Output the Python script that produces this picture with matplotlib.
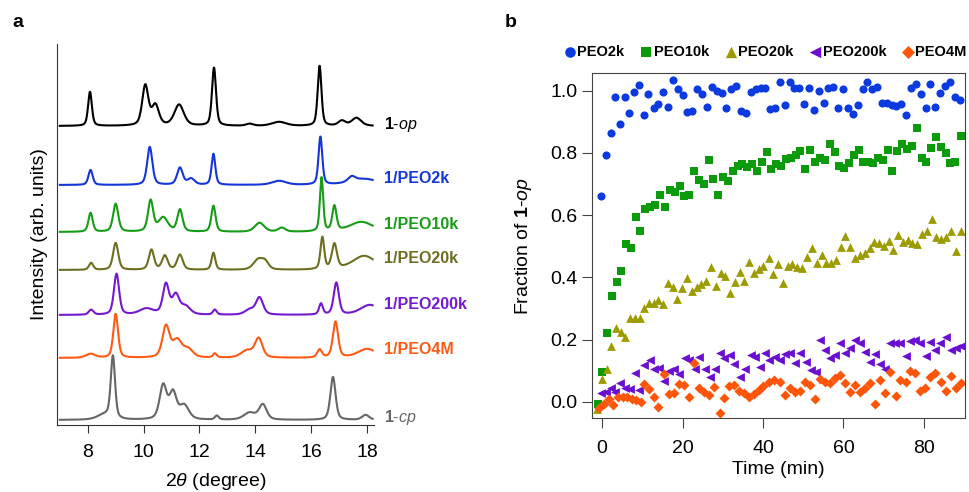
import matplotlib
matplotlib.use('Agg')
import matplotlib.pyplot as plt
import numpy as np

plt.rcParams['font.family'] = ['Liberation Sans', 'DejaVu Sans']
plt.rcParams['mathtext.fontset'] = 'custom'
plt.rcParams['mathtext.rm'] = 'Liberation Sans'
plt.rcParams['mathtext.it'] = 'Liberation Sans:italic'
plt.rcParams['mathtext.bf'] = 'Liberation Sans:bold'

# ---------------- panel a: XRD patterns (peak lists) ----------------
# each pattern = list of (2theta position, height, half width), heights in arb. units
patternNames = ['1-op', '1/PEO2k', '1/PEO10k', '1/PEO20k', '1/PEO200k', '1/PEO4M', '1-cp']
patternColors = ['#000000', '#1436d8', '#169c16', '#6e6e22', '#7419d0', '#ff5a14', '#666666']
patternOffsets = [299, 240, 193, 155, 110, 67, 5]
patternPeaks = [
    [(8.08, 34, 0.08), (10.06, 40, 0.13), (10.42, 20, 0.15), (11.27, 21, 0.2), (12.52, 58, 0.085),
     (13.8, 2, 0.15), (14.85, 4, 0.3), (16.3, 60, 0.08), (17.1, 5, 0.15), (17.62, 8, 0.2)],
    [(8.1, 15, 0.09), (10.22, 38, 0.11), (11.3, 17, 0.12), (11.7, 6, 0.15), (12.5, 31, 0.08),
     (14.85, 4, 0.3), (16.33, 48, 0.08), (17.45, 5, 0.15), (17.9, 6, 0.6)],
    [(8.1, 19, 0.09), (9.0, 28, 0.11), (10.25, 31, 0.11), (10.7, 14, 0.2), (11.3, 22, 0.11),
     (12.5, 26, 0.09), (14.15, 9, 0.2), (14.95, 4, 0.15), (16.37, 54, 0.07), (16.83, 25, 0.09),
     (17.8, 10, 0.5)],
    [(8.12, 7, 0.09), (9.0, 27, 0.11), (10.28, 20, 0.11), (10.76, 14, 0.12), (11.3, 15, 0.12),
     (12.5, 17, 0.08), (14.1, 10, 0.2), (14.35, 7, 0.15), (16.4, 32, 0.08), (16.83, 25, 0.11),
     (17.9, 14, 0.5)],
    [(8.12, 5, 0.1), (9.03, 41, 0.11), (10.1, 6, 0.3), (10.8, 30, 0.13), (11.15, 19, 0.15),
     (11.5, 8, 0.2), (12.55, 5, 0.08), (13.8, 5, 0.2), (14.15, 17, 0.15), (16.35, 11, 0.08),
     (16.9, 32, 0.11), (18.1, 10, 0.4)],
    [(8.1, 4, 0.2), (9.0, 44, 0.1), (10.8, 31, 0.15), (11.2, 17, 0.2), (11.6, 8, 0.2),
     (12.55, 4, 0.08), (13.7, 7, 0.25), (14.12, 19, 0.16), (16.3, 8, 0.1), (16.87, 36, 0.11),
     (18.0, 9, 0.4)],
    [(8.6, 5, 0.3), (8.9, 62, 0.09), (10.7, 34, 0.15), (11.05, 26, 0.15), (11.45, 14, 0.2),
     (12.62, 4, 0.08), (13.8, 7, 0.25), (14.27, 15, 0.16), (16.78, 43, 0.11), (17.95, 5, 0.15)],
]

# ---------------- panel b: fraction of 1-op vs time ----------------
seriesNames = ['PEO2k', 'PEO10k', 'PEO20k', 'PEO200k', 'PEO4M']
seriesColors = ['#0a3ae0', '#0a9a0a', '#9c9c00', '#6a0fd0', '#ff5508']
seriesMarkers = ['o', 's', '^', '<', 'D']
seriesSizes = [34, 30, 40, 40, 26]

tPEO2k = [-0.2, 0.9, 2.1, 3.3, 4.4, 5.6, 6.7, 8.0, 9.2, 10.4, 11.5, 12.8, 13.9, 15.2, 16.4, 17.7,
          18.8, 20.1, 21.2, 22.4, 23.6, 24.9, 26.0, 27.2, 28.5, 29.7, 30.9, 32.1, 33.3, 34.5, 35.7,
          37.0, 38.2, 39.4, 40.6, 41.8, 43.0, 44.1, 45.4, 46.7, 47.8, 49.0, 50.2, 51.4, 52.7, 53.8,
          55.1, 56.2, 57.5, 58.7, 59.9, 61.1, 62.3, 63.5, 64.8, 65.9, 67.2, 68.3, 69.5, 70.7, 72.0,
          73.1, 74.3, 75.5, 76.8, 78.0, 79.2, 80.4, 81.6, 82.8, 84.0, 85.2, 86.5, 87.7, 88.9]
fPEO2k = [0.662, 0.795, 0.863, 0.981, 0.892, 0.979, 0.929, 0.995, 1.018, 0.922, 0.988, 0.943,
          0.957, 0.997, 0.947, 1.034, 1.005, 0.986, 0.932, 0.936, 1.004, 0.988, 0.948, 1.012,
          0.999, 0.992, 0.943, 1.004, 1.014, 0.935, 0.927, 0.997, 1.004, 1.008, 1.008, 0.941,
          0.943, 1.027, 0.954, 1.027, 1.008, 1.008, 0.956, 1.010, 0.939, 0.999, 0.960, 1.008,
          1.013, 0.943, 1.005, 0.943, 0.925, 0.954, 1.004, 1.029, 1.005, 1.011, 0.960, 0.959,
          0.954, 0.952, 0.956, 0.922, 1.008, 1.022, 0.988, 0.943, 1.021, 0.947, 0.994, 1.015,
          1.027, 0.981, 0.970]

tPEO10k = [-1.1, -0.1, 1.2, 2.4, 3.6, 4.7, 5.9, 7.1, 8.4, 9.5, 10.7, 11.9, 13.2, 14.4, 15.6, 16.8,
           18.0, 19.3, 20.4, 21.6, 22.8, 24.1, 25.2, 26.5, 27.6, 28.9, 30.0, 31.3, 32.5, 33.7, 34.8,
           36.1, 37.2, 38.5, 39.7, 40.9, 42.0, 43.1, 44.5, 45.7, 46.9, 48.1, 49.3, 50.5, 51.7, 52.9,
           54.2, 55.4, 56.6, 57.8, 59.0, 60.2, 61.4, 62.6, 63.8, 64.9, 66.2, 67.4, 68.6, 69.8, 71.0,
           72.1, 73.4, 74.6, 75.8, 77.0, 78.2, 79.4, 80.6, 81.8, 83.0, 84.2, 85.4, 86.6, 87.8, 89.1]
fPEO10k = [-0.007, 0.096, 0.220, 0.340, 0.386, 0.420, 0.506, 0.495, 0.593, 0.550, 0.619, 0.625,
           0.632, 0.665, 0.626, 0.681, 0.675, 0.695, 0.662, 0.665, 0.743, 0.712, 0.700, 0.777,
           0.715, 0.665, 0.722, 0.710, 0.743, 0.759, 0.766, 0.756, 0.766, 0.742, 0.770, 0.804,
           0.747, 0.764, 0.758, 0.780, 0.785, 0.793, 0.806, 0.750, 0.808, 0.772, 0.785, 0.777,
           0.829, 0.804, 0.758, 0.752, 0.767, 0.793, 0.809, 0.772, 0.772, 0.767, 0.785, 0.777,
           0.809, 0.742, 0.807, 0.829, 0.813, 0.823, 0.881, 0.783, 0.772, 0.817, 0.850, 0.818,
           0.799, 0.768, 0.772, 0.855]

tPEO20k = [-1.2, -0.1, 1.1, 2.3, 3.4, 4.6, 5.7, 6.9, 8.1, 9.3, 10.4, 11.6, 12.8, 14.0, 15.2, 16.3,
           17.5, 18.7, 19.9, 21.1, 22.3, 23.5, 24.6, 25.9, 27.1, 28.3, 29.5, 30.6, 31.8, 33.0, 34.2,
           35.3, 36.6, 37.7, 38.9, 40.1, 41.4, 42.5, 43.8, 45.0, 46.1, 47.3, 48.4, 49.8, 51.0, 52.2,
           53.3, 54.6, 55.7, 56.9, 58.1, 59.3, 60.4, 61.7, 62.9, 64.1, 65.3, 66.5, 67.7, 68.8, 70.0,
           71.2, 72.4, 73.6, 74.8, 76.0, 77.1, 78.3, 79.5, 80.8, 81.9, 83.1, 84.3, 85.5, 86.7, 87.9,
           89.1]
fPEO20k = [-0.024, 0.072, 0.104, 0.179, 0.236, 0.225, 0.209, 0.268, 0.268, 0.268, 0.302, 0.318,
           0.318, 0.327, 0.316, 0.381, 0.368, 0.332, 0.365, 0.397, 0.357, 0.370, 0.378, 0.389,
           0.434, 0.372, 0.415, 0.404, 0.350, 0.386, 0.418, 0.388, 0.448, 0.413, 0.427, 0.436,
           0.461, 0.411, 0.443, 0.381, 0.436, 0.443, 0.432, 0.429, 0.464, 0.493, 0.445, 0.472,
           0.445, 0.445, 0.456, 0.498, 0.534, 0.498, 0.461, 0.472, 0.477, 0.493, 0.514, 0.509,
           0.502, 0.518, 0.488, 0.536, 0.513, 0.520, 0.509, 0.507, 0.538, 0.550, 0.587, 0.529,
           0.525, 0.531, 0.550, 0.485, 0.549]

tPEO200k = [-0.2, 1.0, 2.2, 3.3, 4.5, 5.7, 6.9, 8.1, 9.2, 10.5, 11.8, 12.9, 14.1, 15.4, 16.5, 17.8,
            19.0, 20.5, 21.6, 23.1, 24.2, 25.5, 26.7, 28.0, 29.2, 30.4, 31.7, 32.9, 34.3, 35.4,
            36.9, 37.9, 39.2, 40.4, 41.6, 42.9, 44.2, 45.4, 46.7, 47.9, 49.2, 50.6, 51.9, 53.2,
            54.2, 55.4, 56.6, 57.9, 59.1, 60.4, 61.6, 62.9, 64.1, 65.3, 66.6, 67.8, 69.0, 70.3,
            71.6, 72.8, 74.1, 75.5, 76.5, 77.8, 79.0, 80.4, 81.5, 82.8, 84.0, 85.5, 86.7, 88.0, 89.2]
fPEO200k = [0.029, 0.032, 0.043, 0.032, 0.061, 0.046, 0.040, 0.093, 0.038, 0.118, 0.136, 0.104,
            0.109, 0.067, 0.099, 0.104, 0.088, 0.140, 0.136, 0.107, 0.145, 0.107, 0.080, 0.107,
            0.158, 0.140, 0.150, 0.123, 0.080, 0.107, 0.152, 0.145, 0.113, 0.158, 0.134, 0.145,
            0.134, 0.153, 0.158, 0.125, 0.156, 0.129, 0.102, 0.096, 0.198, 0.166, 0.140, 0.150,
            0.190, 0.158, 0.172, 0.198, 0.190, 0.161, 0.129, 0.153, 0.123, 0.107, 0.188, 0.188,
            0.188, 0.147, 0.196, 0.198, 0.190, 0.147, 0.193, 0.168, 0.188, 0.207, 0.168, 0.172,
            0.180]

tPEO4M = [-0.7, 0.4, 1.6, 2.8, 3.9, 5.1, 6.2, 7.4, 8.5, 9.6, 10.4, 11.6, 12.9, 14.0, 15.3, 16.5,
          17.8, 19.0, 20.3, 21.6, 22.8, 24.1, 25.3, 26.5, 27.8, 29.2, 30.3, 31.5, 32.8, 33.9, 35.2,
          36.4, 37.7, 38.9, 40.1, 41.4, 42.6, 44.2, 45.4, 46.7, 47.9, 49.2, 50.4, 51.7, 52.9, 54.2,
          55.4, 56.6, 57.9, 59.1, 60.4, 61.6, 62.9, 64.1, 65.3, 66.6, 67.8, 69.0, 70.3, 71.5, 73.0,
          74.0, 75.5, 76.5, 77.8, 79.0, 80.3, 81.5, 82.8, 84.2, 85.5, 86.7, 88.0, 89.2]
fPEO4M = [-0.021, -0.007, 0.008, -0.011, 0.014, 0.016, 0.014, 0.010, 0.005, 0.000, 0.056, 0.040,
          0.016, -0.016, 0.091, 0.025, 0.029, 0.057, 0.054, 0.014, 0.125, 0.043, 0.032, 0.022,
          0.048, -0.037, 0.013, 0.050, 0.054, 0.035, 0.027, 0.014, 0.025, 0.038, 0.050, 0.064,
          0.070, 0.064, 0.022, 0.043, 0.032, 0.035, 0.064, 0.054, 0.008, 0.072, 0.064, 0.061,
          0.078, 0.086, 0.061, 0.032, 0.054, 0.032, 0.046, 0.059, -0.007, 0.070, 0.027, 0.096,
          0.018, 0.070, 0.064, 0.100, 0.093, 0.035, 0.043, 0.080, 0.093, 0.064, 0.035, 0.084,
          0.046, 0.061]

seriesTimes = [tPEO2k, tPEO10k, tPEO20k, tPEO200k, tPEO4M]
seriesFracs = [fPEO2k, fPEO10k, fPEO20k, fPEO200k, fPEO4M]


def peakShape(x, c, h, w):
    # pseudo-Voigt, half gaussian / half lorentzian
    g = np.exp(-np.log(2) * ((x - c) / w) ** 2)
    l = 1.0 / (1.0 + ((x - c) / w) ** 2)
    return h * (0.55 * g + 0.45 * l)


fig = plt.figure(figsize=(9.7, 4.92), dpi=100)
axA = fig.add_axes([0.0588, 0.1362, 0.3268, 0.7744])
axB = fig.add_axes([0.61, 0.1504, 0.3848, 0.7006])

# panel a
twoTheta = np.linspace(7.0, 18.2, 1400)
for name, color, offset, peaks in zip(patternNames, patternColors, patternOffsets, patternPeaks):
    y = np.full_like(twoTheta, float(offset))
    for c, h, w in peaks:
        y += peakShape(twoTheta, c, h, w)
    axA.plot(twoTheta, y, color=color, lw=1.5)
    if name.startswith('1-'):
        lbl = r'$\mathbf{1}$-$\mathit{' + name[2:] + '}$'
        axA.text(18.6, y[-1] + 1, lbl, color=color, fontsize=11.5, va='center',
                 ha='left', clip_on=False)
    else:
        axA.text(18.6, y[-1] + 1, name, color=color, fontsize=11.5, fontweight='bold',
                 va='center', ha='left', clip_on=False)

axA.set_xlim(6.9, 18.25)
axA.set_ylim(0, 381)
axA.set_yticks([])
axA.set_xticks([8, 10, 12, 14, 16, 18])
for s in ['top', 'right']:
    axA.spines[s].set_visible(False)
for s in ['left', 'bottom']:
    axA.spines[s].set_color('#333333')
axA.tick_params(axis='x', direction='out', length=6, color='#333333', labelsize=14, pad=8)
axA.set_xlabel(r'2$\mathit{\theta}$ (degree)', fontsize=14)
axA.xaxis.set_label_coords(0.5, -0.122)
axA.set_ylabel('Intensity (arb. units)', fontsize=14)
axA.yaxis.set_label_coords(-0.03, 0.5)

# panel b
handles = []
for name, color, marker, size, t, f in zip(seriesNames, seriesColors, seriesMarkers, seriesSizes,
                                           seriesTimes, seriesFracs):
    h = axB.scatter(t, f, s=size, marker=marker, color=color, linewidths=0, label=name)
    handles.append(h)

axB.set_xlim(-2.6, 90.2)
axB.set_ylim(-0.052, 1.056)
axB.set_xticks([0, 20, 40, 60, 80])
axB.set_yticks([0.0, 0.2, 0.4, 0.6, 0.8, 1.0])
axB.set_yticklabels(['%.1f' % v for v in [0.0, 0.2, 0.4, 0.6, 0.8, 1.0]])
for s in axB.spines.values():
    s.set_color('#444444')
axB.tick_params(direction='out', length=7, color='#444444', labelsize=14)
axB.tick_params(axis='x', pad=9)
axB.tick_params(axis='y', pad=3)
axB.set_xlabel('Time (min)', fontsize=14)
axB.xaxis.set_label_coords(0.5, -0.125)
axB.set_ylabel(r'Fraction of $\mathbf{1}$-$\mathit{op}$', fontsize=14)
axB.yaxis.set_label_coords(-0.155, 0.5)

leg = fig.legend(handles=handles, loc='center', bbox_to_anchor=(0.7876, 0.894), ncol=5,
                 frameon=False, handletextpad=-0.1, columnspacing=0.9, handlelength=1.2,
                 prop={'weight': 'bold', 'size': 10.5}, scatterpoints=1, markerscale=1.3)

# panel letters
fig.text(0.0186, 0.955, 'a', fontsize=14, fontweight='bold', va='center', ha='center')
fig.text(0.526, 0.955, 'b', fontsize=14, fontweight='bold', va='center', ha='center')

fig.savefig('out.png', dpi=100)
